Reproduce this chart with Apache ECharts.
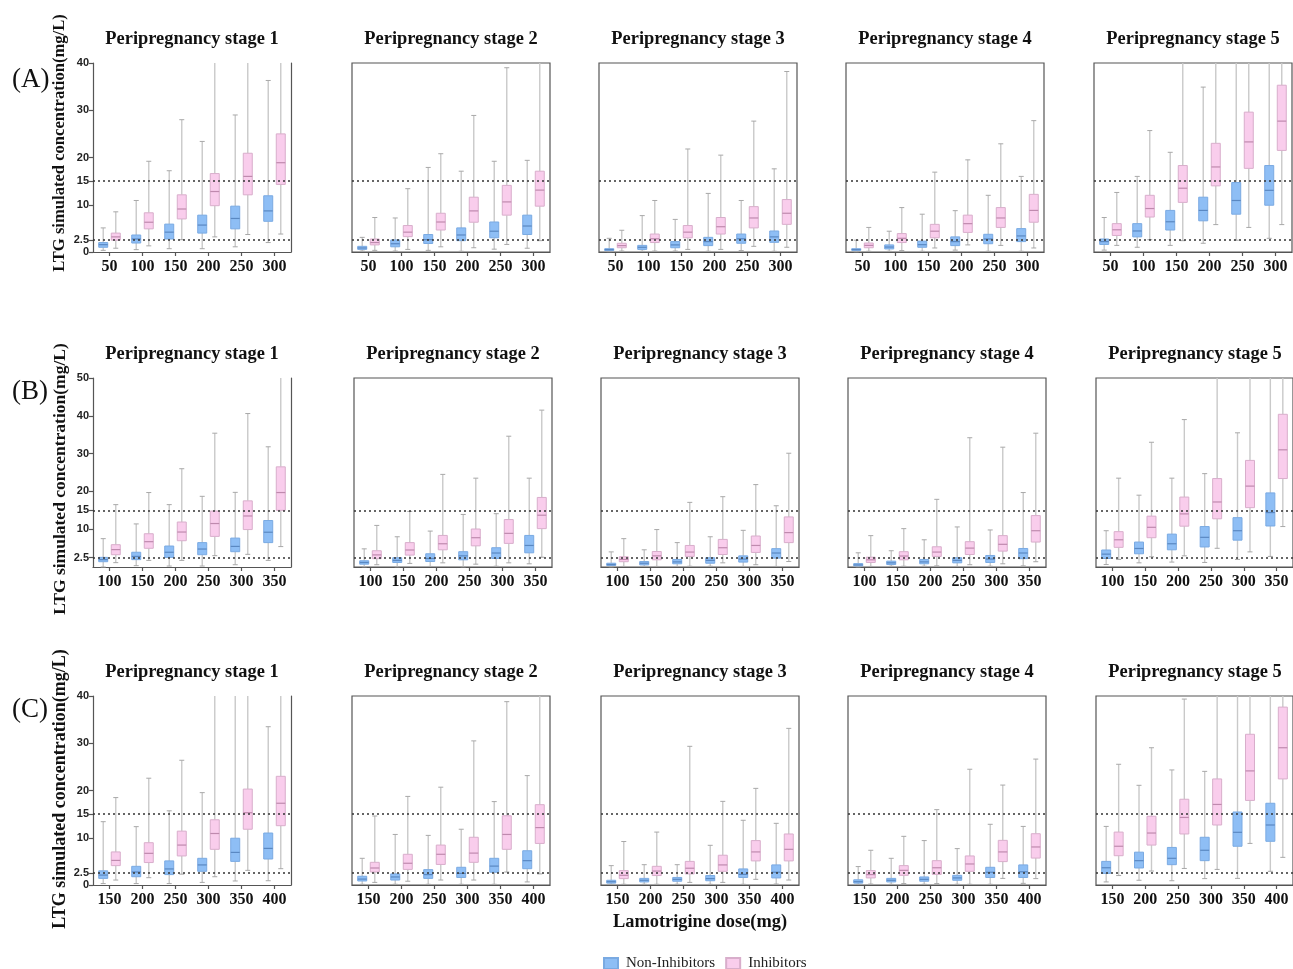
<!DOCTYPE html>
<html><head><meta charset="utf-8">
<script src="https://cdn.jsdelivr.net/npm/echarts@6/dist/echarts.min.js"></script>
<style>html,body{margin:0;padding:0;background:#fff}#c{width:1293px;height:969px}</style>
</head><body><div id="c"></div>
<script>
// ---------- categories / ticks ----------
const dosesA = ['50','100','150','200','250','300'];
const dosesB = ['100','150','200','250','300','350'];
const dosesC = ['150','200','250','300','350','400'];
const stageTitles = ['Peripregnancy stage 1','Peripregnancy stage 2','Peripregnancy stage 3','Peripregnancy stage 4','Peripregnancy stage 5'];
const yTicksA = [0,2.5,10,15,20,30,40];
const yTicksB = [0,2.5,10,15,20,30,40,50];
const yTicksC = [0,2.5,10,15,20,30,40];
const refLines = [2.5, 15];
const seriesNames = ['Non-Inhibitors','Inhibitors'];
const rowLabels = ['(A)','(B)','(C)'];
const yName = 'LTG simulated concentration(mg/L)';
const xName = 'Lamotrigine dose(mg)';

// ---------- data: [min, q1, median, q3, max] per dose ----------
const A1_non = [[0.35,1.0,1.55,2.0,5.1],[0.5,1.9,2.75,3.6,10.9],[0.7,2.75,4.2,5.9,17.2],[0.7,4.0,5.7,7.8,23.4],[1.1,4.9,7.1,9.7,29.0],[2.0,6.5,8.7,11.9,36.3]];
const A1_inh = [[0.8,2.5,3.2,4.0,8.5],[1.3,4.9,6.3,8.3,19.2],[2.6,7.0,9.1,12.1,28.0],[3.2,9.8,12.8,16.6,45],[3.7,12.1,16.0,20.9,48],[3.8,14.3,18.9,25.0,55]];
const A2_non = [[0.2,0.55,0.85,1.2,3.1],[0.2,1.1,1.75,2.55,7.2],[0.35,1.8,2.6,3.7,17.9],[0.15,2.4,3.6,5.1,17.1],[0.6,3.0,4.4,6.35,19.2],[0.8,3.7,5.5,7.8,19.4]];
const A2_inh = [[0.35,1.5,2.0,2.75,7.3],[0.55,3.25,4.2,5.6,13.4],[1.1,4.65,6.35,8.2,20.8],[0.9,6.3,8.7,11.6,28.9],[1.6,7.8,10.6,14.1,39.0],[2.4,9.7,13.1,17.1,50]];
const A3_non = [[0.07,0.3,0.5,0.7,2.9],[0.15,0.55,1.0,1.4,7.7],[0.2,0.9,1.5,2.2,6.9],[0.15,1.35,2.2,3.1,12.4],[0.3,1.85,2.8,3.8,10.9],[0.15,2.05,3.2,4.45,17.6]];
const A3_inh = [[0.2,0.9,1.35,1.85,4.6],[0.2,2.0,2.8,3.8,10.9],[0.55,3.0,4.2,5.6,21.8],[0.55,3.8,5.35,7.3,20.5],[1.2,5.1,7.2,9.6,27.7],[1.0,5.85,8.2,11.1,38.2]];
const A4_non = [[0.05,0.35,0.5,0.7,2.5],[0.15,0.65,1.05,1.5,4.4],[0.15,1.0,1.55,2.3,8.0],[0.4,1.35,2.2,3.2,8.75],[0.15,1.75,2.75,3.75,12.0],[0.15,2.2,3.4,4.95,16.0]];
const A4_inh = [[0.15,0.9,1.4,1.9,5.2],[0.3,2.0,2.9,3.9,9.4],[0.85,3.0,4.4,5.85,16.9],[1.5,4.15,6.0,7.8,19.5],[1.4,5.2,7.2,9.4,22.9],[0.85,6.3,8.8,12.2,27.8]];
const A5_non = [[0.4,1.6,2.2,2.75,7.3],[1.0,3.2,4.45,6.0,16.0],[1.4,4.65,6.4,8.8,21.1],[1.85,6.6,8.8,11.6,34.9],[2.5,8.0,10.9,14.7,45],[2.9,9.9,13.05,18.3,42]];
const A5_inh = [[1.4,3.5,4.7,6.0,12.6],[2.6,7.4,9.2,12.0,25.7],[2.4,10.5,13.5,18.3,48],[5.8,14.0,18.0,23.0,55],[5.2,17.7,23.3,29.6,60],[5.8,21.5,27.7,35.3,65]];

const B1_non = [[0.0,1.4,1.95,2.55,7.5],[0.35,1.95,2.8,3.9,11.4],[0.25,2.55,3.9,5.55,16.5],[0.25,3.25,4.75,6.45,18.7],[0.6,4.05,5.45,7.65,19.75],[1.75,6.45,9.2,12.3,31.8]];
const B1_inh = [[1.15,3.25,4.6,5.9,16.5],[1.75,4.95,6.7,8.8,19.7],[1.75,6.95,9.25,11.9,26.0],[3.0,8.1,11.5,14.8,35.4],[3.35,9.9,13.5,17.5,40.6],[5.4,15.0,19.7,26.5,55]];
const B2_non = [[0.05,0.75,1.2,1.65,4.8],[0.05,1.2,1.75,2.45,8.0],[0.15,1.45,2.25,3.5,9.5],[0.05,1.9,2.95,4.05,13.9],[0.2,2.25,3.7,5.1,14.1],[0.85,3.75,5.7,8.35,23.5]];
const B2_inh = [[0.6,2.2,3.2,4.3,11.0],[0.95,3.15,4.5,6.45,14.7],[1.1,4.55,6.15,8.35,24.5],[0.75,5.6,7.75,10.05,23.5],[1.1,6.25,8.9,12.55,34.6],[2.6,10.15,13.7,18.4,41.5]];
const B3_non = [[0.05,0.4,0.65,1.0,4.0],[0.15,0.55,1.0,1.45,4.55],[0.15,0.85,1.35,2.0,6.45],[0.2,1.0,1.75,2.45,8.0],[0.15,1.3,2.1,2.95,9.7],[0.15,2.35,3.7,4.85,16.2]];
const B3_inh = [[0.15,1.4,2.0,2.7,7.5],[0.15,1.9,2.95,4.1,9.9],[0.2,2.8,3.95,5.7,17.1],[1.1,3.3,5.1,7.3,18.6],[0.6,3.85,5.7,8.2,21.8],[1.45,6.45,9.1,13.25,30.1]];
const B4_non = [[0.05,0.3,0.55,0.9,3.75],[0.2,0.65,1.1,1.55,4.3],[0.2,0.85,1.35,2.0,7.2],[0.15,1.1,1.75,2.45,10.6],[0.2,1.2,2.1,3.05,9.8],[0.3,2.2,3.7,4.9,19.7]];
const B4_inh = [[0.15,1.2,1.9,2.6,8.3],[0.2,1.9,2.9,4.05,10.15],[0.3,2.8,3.95,5.35,17.9],[0.6,3.3,5.0,6.7,34.2],[0.85,4.2,6.0,8.3,31.7],[1.4,6.6,9.6,13.6,35.4]];
const B5_non = [[0.65,2.25,3.4,4.5,9.6],[1.1,3.5,4.9,6.6,19.0],[1.3,4.55,6.15,8.7,23.5],[1.2,5.3,7.85,10.7,24.7],[2.0,7.1,9.6,13.05,35.5],[2.8,10.85,14.4,19.6,52]];
const B5_inh = [[2.0,5.2,7.2,9.35,23.5],[2.7,7.75,10.5,13.45,33.0],[2.95,10.8,14.05,18.5,39.0],[4.95,12.75,17.2,23.4,56],[4.0,15.7,21.4,28.2,60],[10.7,23.4,31.0,40.4,70]];

const C1_non = [[0.3,1.4,2.1,3.0,13.4],[0.3,1.75,2.75,3.95,12.35],[0.3,2.2,3.4,5.1,15.7],[0.55,2.9,4.25,5.65,19.55],[0.85,5.0,6.9,9.9,45],[0.9,5.5,7.75,11.0,33.5]];
const C1_inh = [[1.05,4.1,5.2,7.0,18.5],[1.55,4.75,6.7,8.95,22.6],[2.3,6.15,8.45,11.4,26.4],[1.75,7.55,10.9,13.8,48],[3.1,11.8,15.3,20.3,60],[3.45,12.55,17.3,23.0,65]];
const C2_non = [[0.15,0.85,1.25,1.85,5.65],[0.15,1.05,1.7,2.35,10.7],[0.15,1.4,2.2,3.25,10.5],[0.15,1.6,2.45,3.75,11.8],[0.15,2.7,4.0,5.65,17.65],[0.65,3.45,5.15,7.25,23.15]];
const C2_inh = [[0.55,2.75,3.6,4.8,14.6],[0.8,3.3,4.6,6.5,18.75],[1.05,4.35,6.5,8.45,20.7],[1.05,4.8,6.75,10.1,30.5],[2.75,7.55,10.7,14.65,38.8],[2.35,8.8,12.15,17.0,48]];
const C3_non = [[0.15,0.4,0.7,1.0,4.1],[0.15,0.65,1.0,1.4,4.3],[0.15,0.8,1.2,1.6,4.3],[0.15,0.9,1.35,2.0,8.4],[0.15,1.6,2.25,3.4,13.7],[0.2,1.5,2.7,4.25,13.05]];
const C3_inh = [[0.15,1.35,2.05,3.05,9.2],[0.15,2.0,2.95,3.95,11.2],[0.55,2.35,3.55,5.0,29.35],[0.55,2.9,4.25,6.3,17.7],[1.2,5.1,7.0,9.4,20.45],[1.05,5.1,7.55,10.8,33.15]];
const C4_non = [[0.15,0.4,0.7,1.1,3.9],[0.15,0.65,1.0,1.4,5.65],[0.15,0.8,1.2,1.7,9.4],[0.15,1.0,1.5,2.05,7.7],[0.15,1.6,2.7,3.75,12.85],[0.35,1.6,2.8,4.25,12.4]];
const C4_inh = [[0.2,1.5,2.2,3.05,7.35],[0.3,2.05,3.1,4.1,10.3],[0.3,2.25,3.65,5.15,15.95],[0.15,2.9,4.45,6.15,24.5],[1.4,4.95,7.0,9.45,21.15],[1.35,5.7,8.05,10.85,26.65]];
const C5_non = [[0.65,2.45,3.65,5.0,12.4],[1.0,3.6,5.15,6.95,21.1],[0.9,4.3,5.65,7.95,24.35],[1.35,5.15,7.35,10.1,24.05],[1.4,8.2,11.15,15.45,45],[2.9,9.25,12.7,17.3,48]];
const C5_inh = [[2.0,6.2,8.2,11.2,25.55],[2.95,8.45,11.0,14.55,29.05],[3.5,10.8,14.3,18.15,39.35],[3.3,12.7,17.05,22.45,50],[8.8,17.9,24.15,31.9,60],[5.85,22.45,29.05,37.65,70]];

// ---------- assemble ----------
const rowDoses = [dosesA, dosesB, dosesC];
const rowTicks = [yTicksA, yTicksB, yTicksC];
const rowNon = [[A1_non,A2_non,A3_non,A4_non,A5_non],[B1_non,B2_non,B3_non,B4_non,B5_non],[C1_non,C2_non,C3_non,C4_non,C5_non]];
const rowInh = [[A1_inh,A2_inh,A3_inh,A4_inh,A5_inh],[B1_inh,B2_inh,B3_inh,B4_inh,B5_inh],[C1_inh,C2_inh,C3_inh,C4_inh,C5_inh]];

// layout (pixels)
const layout = {
  lefts: [[93,352,599,846,1094],[93,354,601,848,1096],[93,352,601,848,1096]],
  tops: [63,378,696],
  w: 198, h: 189,
  titleY: [39,354,672],
  labelY: [80,392,710],
  yNameY: [143,479,789],
  yNameSize: [16.6,17.5,18]
};
const SERIF = '"Liberation Serif","Times New Roman",serif';
const SANS = '"Liberation Sans",Arial,sans-serif';
const FRAME = '#555';
const styles = [
  {fill:'#8ebef5', border:'#7aaae2', median:'#5a88c2', whisker:'#c9c9c9', cap:'#a8a8a8'},
  {fill:'#f9cdec', border:'#d8aecb', median:'#bf8aae', whisker:'#c9c9c9', cap:'#a8a8a8'}
];

function makeRender(side, st) {
  return function (params, api) {
    const k = api.value(0);
    const band = api.size([1, 0])[0];
    const cs = params.coordSys;
    const cx = api.coord([k, 0])[0] + side * band * 0.19;
    const top = cs.y, bot = cs.y + cs.height;
    const p = [1,2,3,4,5].map(d => api.coord([k, api.value(d)])[1]);
    const cl = y => Math.min(Math.max(y, top), bot);
    const hw = 4.5, cw = 2.5;
    const ch = [];
    ch.push({type:'line', shape:{x1:cx,y1:cl(p[0]),x2:cx,y2:cl(p[1])}, style:{stroke:st.whisker,lineWidth:1.4}});
    ch.push({type:'line', shape:{x1:cx,y1:cl(p[3]),x2:cx,y2:cl(p[4])}, style:{stroke:st.whisker,lineWidth:1.4}});
    if (p[0] >= top && p[0] <= bot) ch.push({type:'line', shape:{x1:cx-cw,y1:p[0],x2:cx+cw,y2:p[0]}, style:{stroke:st.cap,lineWidth:1}});
    if (p[4] >= top && p[4] <= bot) ch.push({type:'line', shape:{x1:cx-cw,y1:p[4],x2:cx+cw,y2:p[4]}, style:{stroke:st.cap,lineWidth:1}});
    const y3 = cl(p[3]), y1 = cl(p[1]);
    ch.push({type:'rect', shape:{x:cx-hw,y:y3,width:2*hw,height:Math.max(y1-y3,1)}, style:{fill:st.fill,stroke:st.border,lineWidth:1}});
    ch.push({type:'line', shape:{x1:cx-hw,y1:p[2],x2:cx+hw,y2:p[2]}, style:{stroke:st.median,lineWidth:1.2}});
    return {type:'group', children: ch};
  };
}

const grids = [], xAxes = [], yAxes = [], series = [], graphics = [];
for (let r = 0; r < 3; r++) {
  const ticks = rowTicks[r];
  const ymax = ticks[ticks.length - 1];
  for (let c = 0; c < 5; c++) {
    const i = r * 5 + c;
    const left = layout.lefts[r][c], top = layout.tops[r];
    grids.push({left, top, width: layout.w, height: layout.h, show: c > 0, borderColor: FRAME, borderWidth: 1.2, backgroundColor: 'transparent'});
    xAxes.push({
      type:'category', gridIndex:i, data: rowDoses[r],
      axisLine:{show:true, lineStyle:{color:FRAME, width:1.2}},
      axisTick:{show:true, alignWithLabel:true, length:4, lineStyle:{color:FRAME, width:1.2}},
      axisLabel:{fontFamily:SERIF, fontWeight:'bold', fontSize:16, color:'#111', margin:7},
      splitLine:{show:false}
    });
    yAxes.push({
      type:'value', gridIndex:i, min:0, max:ymax,
      splitLine:{show:false},
      axisLine:{show:c === 0, lineStyle:{color:FRAME, width:1.2}},
      axisTick:{show:c === 0, length:4, customValues: ticks, lineStyle:{color:FRAME, width:1.2}},
      axisLabel:{show:c === 0, customValues: ticks, fontFamily:SANS, fontWeight:'bold', fontSize:11, color:'#222', margin:4}
    });
    if (c === 0) {
      yAxes.push({type:'value', gridIndex:i, position:'right', min:0, max:ymax, splitLine:{show:false},
        axisLine:{show:true, lineStyle:{color:FRAME, width:1.2}}, axisTick:{show:false}, axisLabel:{show:false}});
    }
    const yIdx = yAxes.length - (c === 0 ? 2 : 1);
    series.push({
      type:'line', xAxisIndex:i, yAxisIndex:yIdx, data:[], silent:true, z:1,
      markLine:{symbol:'none', silent:true, label:{show:false},
        lineStyle:{type:[2,3], color:'#333', width:1.6},
        data: refLines.map(v => ({yAxis: v}))}
    });
    [rowNon[r][c], rowInh[r][c]].forEach((arr, s) => {
      series.push({
        type:'custom', name: seriesNames[s], xAxisIndex:i, yAxisIndex:yIdx, z:3,
        itemStyle:{color:styles[s].fill, borderColor:styles[s].border, borderWidth:1},
        encode:{x:0, y:[1,2,3,4,5]},
        data: arr.map((v, k) => [k].concat(v)),
        renderItem: makeRender(s === 0 ? -1 : 1, styles[s])
      });
    });
    graphics.push({type:'text', x: left + layout.w / 2, y: layout.titleY[r],
      style:{text: stageTitles[c], font:'bold 18.4px ' + SERIF, fill:'#111', textAlign:'center', textVerticalAlign:'middle', align:'center', verticalAlign:'middle'}});
  }
  graphics.push({type:'text', x: 12, y: layout.labelY[r],
    style:{text: rowLabels[r], font:'27px ' + SERIF, fill:'#111', textAlign:'left', textVerticalAlign:'middle', align:'left', verticalAlign:'middle'}});
  graphics.push({type:'text', x: 60, y: layout.yNameY[r], rotation: Math.PI / 2,
    style:{text: yName, font:'bold ' + layout.yNameSize[r] + 'px ' + SERIF, fill:'#111', textAlign:'center', textVerticalAlign:'middle', align:'center', verticalAlign:'middle'}});
}
graphics.push({type:'text', x: 700, y: 922,
  style:{text: xName, font:'bold 18.4px ' + SERIF, fill:'#111', textAlign:'center', textVerticalAlign:'middle', align:'center', verticalAlign:'middle'}});

const chart = echarts.init(document.getElementById('c'), null, {renderer:'canvas'});
chart.setOption({
  animation:false,
  backgroundColor:'#fff',
  grid: grids, xAxis: xAxes, yAxis: yAxes, series,
  legend:{data: seriesNames, left: 603, top: 956, padding: 0, icon:'rect', itemWidth:14, itemHeight:11, itemGap:10,
    textStyle:{fontFamily:SERIF, fontSize:15, color:'#222', padding:[0,0,0,3]}},
  graphic: graphics
});
</script>
</body></html>
